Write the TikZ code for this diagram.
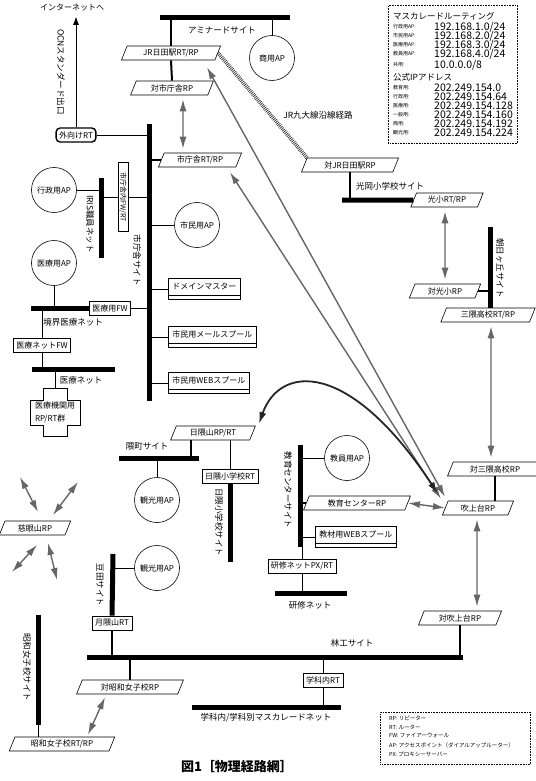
\documentclass[tikz,border=0pt]{standalone}
\usepackage{fontspec}
\setmainfont{Noto Sans CJK JP}
\usetikzlibrary{shapes.geometric,arrows.meta,calc}
\begin{document}
\begin{tikzpicture}[x=1pt,y=-1pt,
  every node/.style={font=\fontsize{8}{9}\selectfont, inner sep=1pt},
  bus/.style={line width=5pt},
  link/.style={line width=0.6pt},
  stub/.style={line width=2pt},
  rp/.style={trapezium, trapezium left angle=68, trapezium right angle=112, draw, line width=0.6pt, fill=white, minimum height=14pt, inner xsep=3pt},
  box/.style={draw, line width=0.6pt, fill=white, minimum height=14pt, inner xsep=3pt},
  ap/.style={circle, draw, line width=0.6pt, minimum size=45pt, fill=white},
  spool/.style={draw, line width=0.6pt, fill=white, minimum height=21pt, text depth=6pt, inner xsep=4pt,
    path picture={\draw[line width=0.6pt] ([yshift=4pt]path picture bounding box.south west) -- ([yshift=4pt]path picture bounding box.south east);}},
  site/.style={font=\fontsize{8.5}{9}\selectfont},
  vsite/.style={site, rotate=-90},
  radio/.style={draw=black!60, line width=1.4pt, {Latex[length=12pt,width=7pt]}-{Latex[length=12pt,width=7pt]}},
  rail/.style={draw=black!80, line width=4pt, dash pattern=on 0.7pt off 1.1pt},
  iplab/.style={anchor=west, font=\fontsize{5}{6}\selectfont},
  ipnum/.style={anchor=west, font=\fontsize{10.5}{10}\selectfont},
  legtext/.style={anchor=west, font=\fontsize{5.5}{6}\selectfont}]
  \useasboundingbox (0,0) rectangle (535,781);

  \coordinate (amiW) at (160,18);   \coordinate (amiE) at (290,18);
  \coordinate (cityN) at (149,124); \coordinate (cityS) at (149,401);
  \coordinate (irisN) at (101,178); \coordinate (irisS) at (101,258);
  \coordinate (kyokaiW) at (31,308); \coordinate (kyokaiE) at (90,308);
  \coordinate (iryoW) at (32,369);  \coordinate (iryoE) at (115,369);
  \coordinate (teruW) at (342,200);
  \coordinate (asaN) at (490,227);  \coordinate (asaS) at (490,308);
  \coordinate (rinW) at (87,657);   \coordinate (rinE) at (463,657);
  \coordinate (masqW) at (192,707); \coordinate (masqE) at (341,707);
  \coordinate (showaN) at (38,615); \coordinate (showaS) at (38,725);
  \coordinate (mameN) at (113,554);
  \coordinate (kumaW) at (119,458); \coordinate (kumaE) at (199,458);
  \coordinate (higsS) at (230,562);
  \coordinate (edN) at (300,445);   \coordinate (edS) at (300,547);
  \coordinate (kenW) at (275,593);  \coordinate (kenE) at (347,593);
  \coordinate (kikanT) at (55,388);

  \draw[bus] (amiW) -- (amiE);
  \draw[bus] (cityN) -- (cityS);
  \draw[bus] (irisN) -- (irisS);
  \draw[bus] (kyokaiW) -- (kyokaiE);
  \draw[bus] (iryoW) -- (iryoE);
  \draw[bus] (asaN) -- (asaS);
  \draw[bus] (rinW) -- (rinE);
  \draw[bus] (masqW) -- (masqE);
  \draw[bus] (showaN) -- (showaS);
  \draw[bus] (kumaW) -- (kumaE);
  \draw[bus] (edN) -- (edS);
  \draw[bus] (kenW) -- (kenE);

  \node (inet) at (72,8) {インターネットへ};
  \node[vsite] (ocn) at (61,72) {OCNスタンダード出口};
  \node[box, rounded corners=4pt, line width=1.4pt] (outrt) at (76,135) {外向けRT};
  \node[site] (amilab) at (222,30) {アミナードサイト};
  \node[rp] (jrhita) at (171,53) {JR日田駅RT/RP};
  \node[rp] (taishi) at (172,88) {対市庁舎RP};
  \node[ap] (shoap) at (272,58) {商用AP};
  \node[rp] (shirt) at (200,160) {市庁舎RT/RP};
  \node[ap] (gyoap) at (54,190) {行政用AP};
  \node[vsite] (irislab) at (90,224) {IRIS職員ネット};
  \node[box, rotate=-90, minimum width=69pt, minimum height=10pt, inner sep=0.5pt, font=\fontsize{7}{8}\selectfont] (shifw) at (123,197) {市庁舎内FW/RT};
  \node[vsite] (citylab) at (137,260) {市庁舎サイト};
  \node[ap] (shiap) at (197,225) {市民用AP};
  \node[ap] (iryoap) at (54,263) {医療用AP};
  \node[box] (iryofw) at (110,308) {医療用FW};
  \node[site] (kyokailab) at (73,322) {境界医療ネット};
  \node[box] (netfw) at (42,345) {医療ネットFW};
  \node[site] (iryolab) at (81,380) {医療ネット};
  \node[align=left, inner sep=0pt, font=\fontsize{8}{13}\selectfont] (kikan) at (55,412) {医療機関用\\RP/RT群};
  \draw[link] (43,388) -- (67,388) -- (67,400) -- (80,400) -- (80,425) -- (67,425) -- (67,436)
    -- (43,436) -- (43,425) -- (30,425) -- (30,400) -- (43,400) -- cycle;
  \foreach \nm/\y/\txt in {domain/289/ドメインマスター, mail/337/市民用メールスプール, web/383/市民用WEBスプール} {
    \node[spool, anchor=west] (\nm) at (168,\y) {\txt};
    \draw[link] (\nm.west) -- (\nm.west -| cityN);
  }

  \node[draw, densely dotted, line width=0.6pt, anchor=north west, minimum width=129pt, minimum height=138pt] (masq) at (388,5) {};
  \node[anchor=west, font=\fontsize{8.5}{9}\selectfont] (masqhead) at (392,16) {マスカレードルーティング};
  \foreach \y/\lab/\ip in {27/{行政用AP:}/{192.168.1.0/24}, 36/{市民用AP:}/{192.168.2.0/24},
      45/{医療用AP:}/{192.168.3.0/24}, 54/{教員用AP:}/{192.168.4.0/24}, 65/{共用:}/{10.0.0.0/8}} {
    \node[iplab] (ml\y) at (392,\y) {\lab};
    \node[ipnum] (mn\y) at (433,\y) {\ip};
  }
  \node[anchor=west, font=\fontsize{8.5}{9}\selectfont] (pubhead) at (392,77) {公式IPアドレス};
  \foreach \y/\lab/\ip in {88/{教育用:}/{202.249.154.0}, 97/{行政用:}/{202.249.154.64}, 106/{医療用:}/{202.249.154.128},
      115/{一般用:}/{202.249.154.160}, 124/{商用:}/{202.249.154.192}, 133/{観光用:}/{202.249.154.224}} {
    \node[iplab] (pl\y) at (392,\y) {\lab};
    \node[ipnum] (pn\y) at (433,\y) {\ip};
  }

  \node[site] (jrlab) at (318,115) {JR九大線沿線経路};
  \node[rp] (taijr) at (350,165) {対JR日田駅RP};
  \node[site] (terulab) at (390,186) {光岡小学校サイト};
  \node[rp] (korp) at (447,200) {光小RT/RP};
  \node[rp] (taiko) at (445,291) {対光小RP};
  \node[vsite] (asalab) at (500,268) {朝日ヶ丘サイト};
  \node[rp] (mikumart) at (488,315) {三隈高校RT/RP};
  \node[rp] (taimiku) at (495,469) {対三隈高校RP};
  \node[rp] (fuki) at (478,508) {吹上台RP};
  \node[rp] (taifuki) at (460,618) {対吹上台RP};
  \node[site] (rinlab) at (352,643) {林工サイト};
  \node[box] (gakart) at (323,680) {学科内RT};
  \node[site] (masqlab) at (266,718) {学科内/学科別マスカレードネット};
  \node[rp] (taisho) at (130,687) {対昭和女子校RP};
  \node[rp] (shorp) at (62,744) {昭和女子校RT/RP};
  \node[vsite] (showalab) at (27,667) {昭和女子校サイト};
  \node[box] (tsukirt) at (112,623) {月隈山RT};
  \node[vsite] (mamelab) at (100,585) {豆田サイト};
  \node[ap] (kankoap2) at (157,568) {観光用AP};
  \node[ap] (kankoap1) at (157,500) {観光用AP};
  \node[site] (kumalab) at (147,446) {隈町サイト};
  \node[rp] (higurp) at (213,433) {日隈山RP/RT};
  \node[box] (higsrt) at (230,476) {日隈小学校RT};
  \node[vsite] (higslab) at (219,522) {日隈小学校サイト};
  \node[vsite] (edlab) at (288,490) {教育センターサイト};
  \node[ap] (kyoap) at (347,458) {教員用AP};
  \node[rp] (kyorp) at (357,503) {教育センターRP};
  \node[spool, anchor=west] (kyoweb) at (315,537) {教材用WEBスプール};
  \node[box] (kenpx) at (302,566) {研修ネットPX/RT};
  \node[site] (kenlab) at (310,605) {研修ネット};
  \node[rp] (jigen) at (35,528) {慈眼山RP};

  \draw[line width=0.8pt, -{Latex[length=8pt,width=6pt]}, shorten >=4pt] (outrt.north) -- (outrt.north |- inet.south);
  \draw[link] (outrt.east) -- (outrt.east -| cityN);
  \draw[stub] (jrhita.north) -- (jrhita.north |- amiW);
  \draw[stub] (jrhita.south) -- (taishi.north);
  \draw[link] (shoap.north) -- (shoap.north |- amiW);
  \draw[stub] (shirt.west) -- (shirt.west -| cityN);
  \draw[link] (gyoap.east) -- (gyoap.east -| irisN);
  \draw[link] (shifw.south) -- (shifw.south -| irisN);
  \draw[link] (shifw.north) -- (shifw.north -| cityN);
  \draw[link] (shiap.west) -- (shiap.west -| cityN);
  \draw[link] (iryoap.south) -- (iryoap.south |- kyokaiW);
  \draw[link] (iryofw.east) -- (iryofw.east -| cityN);
  \draw[link] (netfw.north) -- (netfw.north |- kyokaiW);
  \draw[link] (netfw.south) -- (netfw.south |- iryoW);
  \draw[link] (kikanT) -- (kikanT |- iryoW);

  \draw[stub] (taijr.south) -- (taijr.south |- teruW);
  \draw[bus] (teruW) -- (korp.west);
  \draw[stub] (taiko.east) -- (taiko.east -| asaN);
  \draw[stub] (taimiku.south) -- (taimiku.south |- fuki.north);
  \draw[stub] (taifuki.south) -- (taifuki.south |- rinW);
  \draw[link] (gakart.north) -- (gakart.north |- rinW);
  \draw[link] (gakart.south) -- (gakart.south |- masqW);
  \draw[stub] (taisho.north) -- (taisho.north |- rinW);
  \draw[link] (showaS) -- (showaS |- shorp.north);
  \draw[bus] (mameN) -- (tsukirt.north);
  \draw[stub] (tsukirt.south) -- (tsukirt.south |- rinW);
  \draw[link] (kankoap2.west) -- (kankoap2.west -| mameN);
  \draw[link] (kankoap1.north) -- (kankoap1.north |- kumaW);
  \coordinate (hgs) at ($(higurp.south)+(-22,0)$);
  \draw[stub] (hgs) -- (hgs |- kumaW);
  \draw[link] (higsrt.north) -- (higsrt.north |- higurp.south);
  \draw[bus] (higsrt.south) -- (higsrt.south |- higsS);
  \draw[link] (kyoap.west) -- (kyoap.west -| edN);
  \draw[stub] (kyorp.west) -- (kyorp.west -| edN);
  \draw[link] (kyoweb.west) -- (kyoweb.west -| edN);
  \draw[link] (kenpx.north) -- (kenpx.north |- edS);
  \draw[link] (kenpx.south) -- (kenpx.south |- kenW);

  \draw[rail] (jrhita.east) -- (taijr.top left corner);
  \draw[radio] ($(taishi.south)+(11,4)$) -- ($(shirt.north)+(-17,-4)$);
  \draw[radio] ($(korp.south)+(-2,4)$) -- ($(taiko.north)+(0,-4)$);
  \draw[radio] ($(mikumart.south)+(3,4)$) -- ($(taimiku.north)+(-4,-4)$);
  \draw[radio] ($(fuki.south)+(-1,4)$) -- ($(taifuki.north)+(17,-4)$);
  \draw[radio] ($(jrhita.south)+(36,7)$) -- ($(fuki.top left corner)+(-3,-4)$);
  \draw[radio] ($(shirt.south)+(30,5)$) -- ($(fuki.top left corner)+(-7,-2)$);
  \draw[radio] (kyorp.east) -- (fuki.west);
  \draw[radio, draw=black!85, line width=1.8pt] ($(higurp.east)+(6,-9)$) .. controls (280,364) and (350,360) .. ($(fuki.top left corner)+(-10,-7)$);
  \draw[radio] ($(taisho.south)+(-25,3)$) -- ($(shorp.north)+(26,-2)$);
  \foreach \n/\sx/\sy/\ex/\ey in {a/3/-16/-15/-51, b/18/-13/43/-46, c/2/17/-23/44, d/13/15/22/52} {
    \coordinate (jgs\n) at ($(jigen)+(\sx,\sy)$);
    \coordinate (jge\n) at ($(jigen)+(\ex,\ey)$);
    \draw[radio] (jgs\n) -- (jge\n);
  }

  \node[draw, densely dotted, line width=0.6pt, anchor=north west, minimum width=150pt, minimum height=52pt] (legend) at (380,712) {};
  \foreach \i/\txt in {0/{RP: リピーター}, 1/{RT: ルーター}, 2/{FW: ファイアーウォール},
      3/{AP: アクセスポイント（ダイアルアップルーター）}, 4/{PX: プロキシーサーバー}} {
    \node[legtext] (leg\i) at (388,{718+9*\i}) {\txt};
  }
  \node[font=\bfseries\fontsize{13}{14}\selectfont] (title) at (237,767) {図1［物理経路網］};
\end{tikzpicture}
\end{document}
